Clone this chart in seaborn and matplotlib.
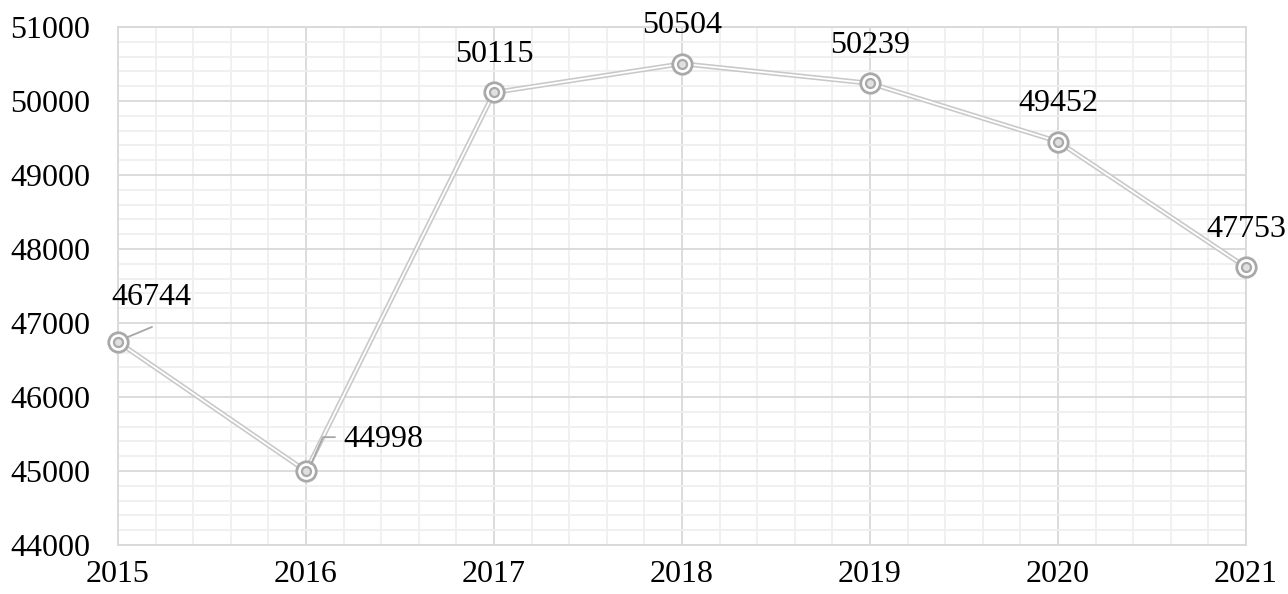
import matplotlib
matplotlib.use("Agg")
import matplotlib.pyplot as plt
import seaborn as sns
import pandas as pd
from matplotlib.ticker import MultipleLocator
from matplotlib.lines import Line2D

years = [2015, 2016, 2017, 2018, 2019, 2020, 2021]
values = [46744, 44998, 50115, 50504, 50239, 49452, 47753]
y_ticks = [44000, 45000, 46000, 47000, 48000, 49000, 50000, 51000]

sns.set_theme(style="white")
plt.rcParams['font.family'] = ['Liberation Serif', 'DejaVu Serif']
plt.rcParams['text.color'] = 'black'

df = pd.DataFrame({"year": years, "value": values})

FS = 23
fig = plt.figure(figsize=(12.88, 5.94), dpi=100)
ax = fig.add_axes([118/1288, 49/594, 1128/1288, 518/594])

major_c = "#d9d9d9"
minor_c = "#efefef"

ax.set_xlim(2015, 2021)
ax.set_ylim(44000, 51000)
ax.xaxis.set_major_locator(MultipleLocator(1))
ax.xaxis.set_minor_locator(MultipleLocator(0.2))
ax.set_yticks(y_ticks)
ax.yaxis.set_minor_locator(MultipleLocator(200))
ax.grid(which="minor", color=minor_c, linewidth=1.3)
ax.grid(which="major", color=major_c, linewidth=1.3)
ax.set_axisbelow(True)
for s in ax.spines.values():
    s.set_color(major_c)
    s.set_linewidth(1.3)

sns.lineplot(data=df, x="year", y="value", ax=ax, color="#c8c8c8", linewidth=3.6, zorder=3)
sns.lineplot(data=df, x="year", y="value", ax=ax, color="white", linewidth=1.3, zorder=4)
ax.plot(df["year"], df["value"], linestyle="none", marker="o", ms=14, mfc="white",
        mec="#a9a9a9", mew=2.0, zorder=5, clip_on=False)
ax.plot(df["year"], df["value"], linestyle="none", marker="o", ms=6.5, mfc="#e0e0e0",
        mec="#a9a9a9", mew=1.6, zorder=6, clip_on=False)

ax.set_xlabel("")
ax.set_ylabel("")
ax.set_xticks(years)
ax.set_xticklabels([str(y) for y in years])
ax.tick_params(axis="both", which="both", length=0, labelsize=FS, labelcolor="black")
ax.tick_params(axis="y", pad=20)
ax.tick_params(axis="x", pad=11)

px = 72 / 100.0  # pixels -> points


def leader(x, v, offsets):
    X, Y = ax.transData.transform((x, v))
    xs = [X + dx for dx, dy in offsets]
    ys = [Y + dy for dx, dy in offsets]
    ln = Line2D(xs, ys, transform=None, color="#a6a6a6", lw=1.3, zorder=7)
    fig.add_artist(ln)


for i, (x, v) in enumerate(zip(years, values)):
    if i == 0:
        ax.annotate(str(v), xy=(x, v), xytext=(33 * px, 44 * px), textcoords="offset points",
                    ha="center", va="center", fontsize=FS, zorder=7,
                    annotation_clip=False)
        leader(x, v, [(10, 5), (34, 15)])
    elif i == 1:
        ax.annotate(str(v), xy=(x, v), xytext=(77 * px, 32 * px), textcoords="offset points",
                    ha="center", va="center", fontsize=FS, zorder=7)
        leader(x, v, [(5, 7), (17, 34), (29, 34)])
    else:
        ax.annotate(str(v), xy=(x, v), xytext=(0, 38 * px), textcoords="offset points",
                    ha="center", va="center", fontsize=FS, zorder=7,
                    annotation_clip=False)

fig.savefig("out.png", dpi=100)
